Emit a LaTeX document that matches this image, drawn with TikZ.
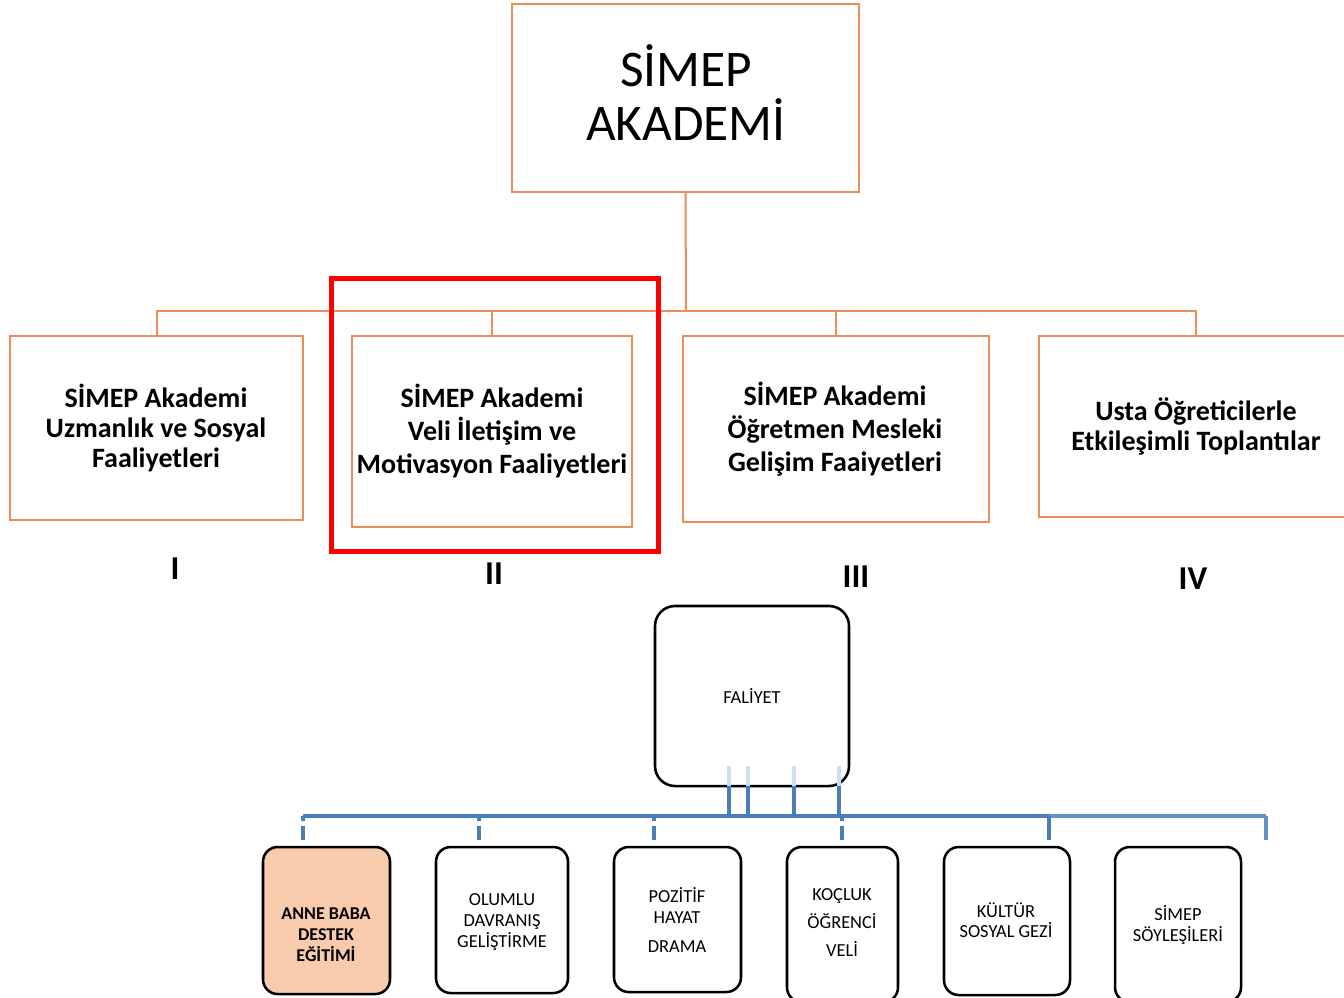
\documentclass[tikz,border=0pt]{standalone}
\usepackage{fontspec}
\setmainfont{Carlito}
\definecolor{orangeline}{RGB}{236,143,86}
\definecolor{blueline}{RGB}{74,126,187}
\definecolor{peach}{RGB}{248,203,173}
\begin{document}
\begin{tikzpicture}[x=0.75pt,y=-0.75pt,
  obox/.style={draw=orangeline,line width=1.5pt,fill=white,inner sep=0pt},
  olink/.style={draw=orangeline,line width=1.5pt},
  otext/.style={align=center,font=\bfseries\fontsize{21}{22.5}\selectfont,inner sep=0pt},
  roman/.style={font=\bfseries\fontsize{25}{30}\selectfont,inner sep=0pt},
  rbox/.style={draw=black,line width=1.9pt,rounded corners=11pt,fill=white,inner sep=0pt},
  btext/.style={align=center,font=\fontsize{13.8}{15.5}\selectfont,inner sep=0pt},
  blink/.style={draw=blueline,line width=2.3pt},
  bdash/.style={draw=blueline,line width=2.3pt,dash pattern=on 3.75pt off 3.75pt on 11pt off 2pt}
]
\useasboundingbox (0,0) rectangle (1344,997);
\begin{scope}
\clip (0,0) rectangle (1344,997);
% top box
\node[obox,minimum width=347*0.75pt,minimum height=188*0.75pt] (top) at (685.5,98) {};
\node[align=center,font=\fontsize{38.5}{40.5}\selectfont,inner sep=0pt] (ttop) at (686,93) {SİMEP\\AKADEMİ};
% level 2 boxes
\node[obox,minimum width=293*0.75pt,minimum height=184*0.75pt] (b1) at (156.5,428) {};
\node[obox,minimum width=280*0.75pt,minimum height=191*0.75pt] (b2) at (492,431.5) {};
\node[obox,minimum width=306*0.75pt,minimum height=186*0.75pt] (b3) at (836,429) {};
\node[obox,minimum width=313*0.75pt,minimum height=181*0.75pt] (b4) at (1195.5,426.5) {};
\node[otext] (t1) at (156,428) {SİMEP Akademi\\Uzmanlık ve Sosyal\\Faaliyetleri};
\node[otext,font=\bfseries\fontsize{21}{25}\selectfont] (t2) at (492,431) {SİMEP Akademi\\Veli İletişim ve\\Motivasyon Faaliyetleri};
\node[otext,font=\bfseries\fontsize{21}{24.7}\selectfont] (t3) at (835,429.5) {SİMEP Akademi\\Öğretmen Mesleki\\Gelişim Faaiyetleri};
\node[otext] (t4) at (1196,426) {Usta Öğreticilerle\\Etkileşimli Toplantılar};
% connectors
\coordinate (obus) at (686,311);
\draw[olink] (top.south) -- (obus);
\draw[olink] (obus) -| (b1.north);
\draw[olink] (obus) -| (b2.north);
\draw[olink] (obus) -| (b3.north);
\draw[olink] (obus) -| (b4.north);
% red highlight
\node[draw=red,line width=3.75pt,minimum width=327*0.75pt,minimum height=273*0.75pt,inner sep=0pt] (hl) at (494.5,414.5) {};
% roman numerals
\node[roman] (r1) at (175,569) {I};
\node[roman] (r2) at (494,574) {II};
\node[roman] (r3) at (856,577) {III};
\node[roman] (r4) at (1193,579) {IV};
% FALIYET
\node[rbox,rounded corners=15pt,minimum width=194*0.75pt,minimum height=180*0.75pt] (fal) at (752,696) {};
\node[btext] (tfal) at (752,696) {FALİYET};
% bottom boxes
\node[rbox,fill=peach,minimum width=127*0.75pt,minimum height=147*0.75pt] (c1) at (326.5,920.5) {};
\node[rbox,minimum width=132*0.75pt,minimum height=146*0.75pt] (c2) at (502,920) {};
\node[rbox,minimum width=127*0.75pt,minimum height=145*0.75pt] (c3) at (677.5,919.5) {};
\node[rbox,minimum width=111*0.75pt,minimum height=155*0.75pt] (c4) at (842.5,924.5) {};
\node[rbox,minimum width=126*0.75pt,minimum height=148*0.75pt] (c5) at (1007,921) {};
\node[rbox,minimum width=126*0.75pt,minimum height=155*0.75pt] (c6) at (1178,924.5) {};
\node[btext,font=\bfseries\fontsize{13.5}{15.75}\selectfont] (u1) at (326,935) {ANNE BABA\\DESTEK\\EĞİTİMİ};
\node[btext] (u2) at (502,922) {OLUMLU\\DAVRANIŞ\\GELİŞTİRME};
\node[btext] (u3) at (677,920) {POZİTİF\\HAYAT\\[6pt]DRAMA};
\node[btext,font=\fontsize{13.8}{21}\selectfont] (u4) at (842,923) {KOÇLUK\\ÖĞRENCİ\\VELİ};
\node[btext] (u5) at (1006,920) {KÜLTÜR\\SOSYAL GEZİ};
\node[btext] (u6) at (1178,925) {SİMEP\\SÖYLEŞİLERİ};
% blue connectors
\coordinate (s1) at (729,766); \coordinate (s2) at (748,766);
\coordinate (s3) at (794,766); \coordinate (s4) at (839,766);
\coordinate (e1) at (729,786); \coordinate (e2) at (748,786);
\coordinate (e3) at (794,786); \coordinate (e4) at (839,786);
\coordinate (f1) at (729,816); \coordinate (f2) at (748,816);
\coordinate (f3) at (794,816); \coordinate (f4) at (839,816);
\foreach \i in {1,...,4}{
  \draw[draw=blueline!25,line width=2.3pt] (s\i) -- (e\i);
  \draw[blink] (e\i) -- (f\i);
}
\coordinate (h1) at (303,816); \coordinate (h2) at (479,816);
\coordinate (h3) at (654,816); \coordinate (h4) at (842,816);
\coordinate (h5) at (1049,816); \coordinate (h6) at (1266,816);
\coordinate (d1) at (303,840); \coordinate (d2) at (479,840);
\coordinate (d3) at (654,840); \coordinate (d4) at (842,840);
\coordinate (d5) at (1049,840); \coordinate (d6) at (1266,840);
\draw[blink] (h1) -- (h5);
\draw[blink,draw=blueline!85] (h5) -- (h6);
\foreach \i in {1,...,4}{ \draw[bdash] (h\i) -- (d\i); }
\draw[blink] (h5) -- (d5);
\draw[blink,draw=blueline!85] (h6) -- (d6);
\end{scope}
\end{tikzpicture}
\end{document}
